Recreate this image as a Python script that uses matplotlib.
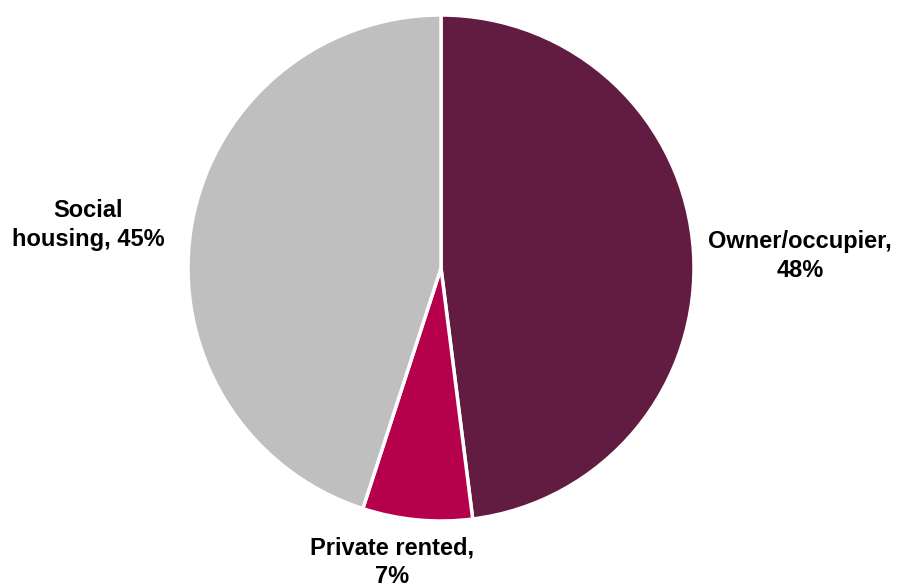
import matplotlib
matplotlib.use("Agg")
import matplotlib.pyplot as plt

plt.rcParams['font.family'] = ['Liberation Sans', 'DejaVu Sans']

tenure = ['Owner/occupier', 'Private rented', 'Social housing']
share = [48, 7, 45]
colours = ['#621c42', '#b5004b', '#bfbfbf']

# label anchor points (pixels, y measured from the bottom) and line breaks
label_text = ['Owner/occupier,\n{}%', 'Private rented,\n{}%', 'Social\nhousing, {}%']
label_pos = [(800, 327), (392, 21), (88, 358)]

fig = plt.figure(figsize=(8.99, 5.83), dpi=100)
ax = fig.add_axes([0, 0, 1, 1])

ax.pie(share, colors=colours, startangle=90, counterclock=False,
       center=(441, 315), radius=253,
       wedgeprops=dict(edgecolor='white', linewidth=2.5))

for txt, val, (x, y) in zip(label_text, share, label_pos):
    ax.text(x, y, txt.format(val), ha='center', va='center',
            fontsize=17, fontweight='bold', linespacing=1.28, color='black')

ax.set_xlim(0, 899)
ax.set_ylim(0, 583)
ax.set_aspect('equal')
ax.axis('off')

fig.savefig('out.png', dpi=100)
